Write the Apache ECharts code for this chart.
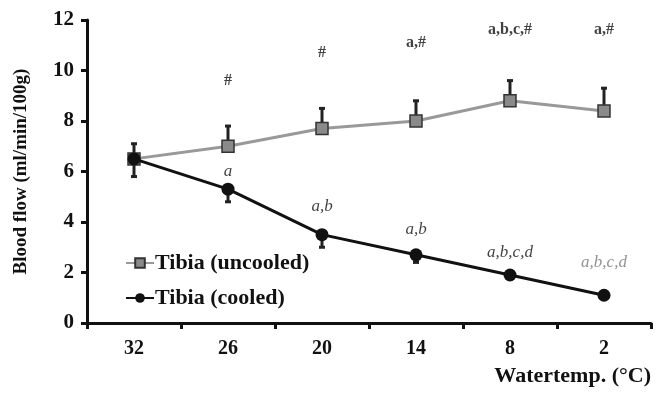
<!DOCTYPE html>
<html>
<head>
<meta charset="utf-8">
<script src="https://cdn.jsdelivr.net/npm/echarts@6/dist/echarts.min.js"></script>
<style>
  html, body { margin: 0; padding: 0; background: #fff; }
  #main { width: 663px; height: 397px; }
</style>
</head>
<body>
<div id="main"></div>
<script>
const temps = ["32", "26", "20", "14", "8", "2"];
const uncooled = [6.5, 7.0, 7.7, 8.0, 8.8, 8.4];
const uncooledErr = [0.6, 0.8, 0.8, 0.8, 0.8, 0.9];
const cooled = [6.5, 5.3, 3.5, 2.7, 1.9, 1.1];
const cooledErr = [0.7, 0.5, 0.5, 0.3, 0, 0];
// significance marks
const uncooledMarks = ["", "#", "#", "a,#", "a,b,c,#", "a,#"];
const uncooledMarkY = [null, 9.6, 10.7, 11.1, 11.6, 11.6];
const cooledMarks = ["", "a", "a,b", "a,b", "a,b,c,d", "a,b,c,d"];
const cooledMarkY = [null, 6.0, 4.6, 3.7, 2.8, 2.4];
const cooledMarkColor = ["#111", "#111", "#111", "#111", "#111", "#777"];

const serif = "Liberation Serif";

const myChart = echarts.init(document.getElementById("main"));

function errBar(values, errs, dir, color) {
  return {
    type: "custom",
    silent: true,
    z: 1,
    data: values.map((v, i) => [i, v, errs[i]]),
    renderItem: function (params, api) {
      const e = api.value(2);
      if (!e) return null;
      const p0 = api.coord([api.value(0), api.value(1)]);
      const p1 = api.coord([api.value(0), api.value(1) + dir * e]);
      const st = { stroke: color, lineWidth: 3 };
      return {
        type: "group",
        children: [
          { type: "line", shape: { x1: p0[0], y1: p0[1], x2: p1[0], y2: p1[1] }, style: st },
          { type: "line", shape: { x1: p1[0] - 3, y1: p1[1], x2: p1[0] + 3, y2: p1[1] }, style: st },
        ],
      };
    },
  };
}

function marks(texts, ys, colors, style) {
  return {
    type: "scatter",
    silent: true,
    symbolSize: 0,
    data: texts
      .map((t, i) => ({ value: [i, ys[i]], name: t, label: { color: colors ? colors[i] : "#111" } }))
      .filter((d) => d.name),
    label: Object.assign(
      {
        show: true,
        position: "inside",
        formatter: "{b}",
        fontFamily: serif,
        fontSize: 17,
      },
      style
    ),
  };
}

let option = {
  backgroundColor: "#fff",
  animation: false,
  grid: { left: 87, right: 12, top: 20, bottom: 74 },
  legend: {
    orient: "vertical",
    left: 120,
    top: 247,
    itemGap: 13,
    itemWidth: 28,
    itemHeight: 12,
    data: ["Tibia (uncooled)", "Tibia (cooled)"],
    textStyle: { fontFamily: serif, fontWeight: "bold", fontSize: 22, color: "#111", padding: [0, 0, 0, -4] },
  },
  xAxis: {
    type: "category",
    data: temps,
    boundaryGap: true,
    name: "Watertemp. (°C)",
    nameLocation: "end",
    nameGap: 0,
    nameTextStyle: {
      fontFamily: serif,
      fontWeight: "bold",
      fontSize: 22,
      color: "#111",
      align: "right",
      verticalAlign: "top",
      padding: [42, 0, 0, 0],
    },
    axisLine: { lineStyle: { color: "#111", width: 3 } },
    axisTick: { show: true, length: 6, lineStyle: { color: "#111", width: 3 } },
    axisLabel: { fontFamily: serif, fontWeight: "bold", fontSize: 20, color: "#111", margin: 16 },
  },
  yAxis: {
    type: "value",
    min: 0,
    max: 12,
    interval: 2,
    name: "Blood flow (ml/min/100g)",
    nameLocation: "middle",
    nameGap: 56,
    nameTextStyle: { fontFamily: serif, fontWeight: "bold", fontSize: 19, color: "#111" },
    axisLine: { show: true, lineStyle: { color: "#111", width: 3 } },
    axisTick: { show: true, length: 6, lineStyle: { color: "#111", width: 3 } },
    axisLabel: { fontFamily: serif, fontWeight: "bold", fontSize: 21, color: "#111", margin: 13 },
    splitLine: { show: false },
  },
  series: [
    errBar(uncooled, uncooledErr, 1, "#222"),
    errBar(cooled, cooledErr, -1, "#222"),
    {
      name: "Tibia (uncooled)",
      type: "line",
      z: 2,
      data: uncooled,
      symbol: "rect",
      symbolSize: 12,
      lineStyle: { color: "#999", width: 3 },
      itemStyle: { color: "#8a8a8a", borderColor: "#333", borderWidth: 1.5 },
    },
    {
      name: "Tibia (cooled)",
      type: "line",
      z: 3,
      data: cooled,
      symbol: "circle",
      symbolSize: 13,
      lineStyle: { color: "#111", width: 3 },
      itemStyle: { color: "#111" },
    },
    marks(uncooledMarks, uncooledMarkY, null, { fontWeight: "bold", fontSize: 16 }),
    marks(cooledMarks, cooledMarkY, cooledMarkColor, { fontStyle: "italic" }),
  ],
};

option && myChart.setOption(option);
</script>
</body>
</html>
